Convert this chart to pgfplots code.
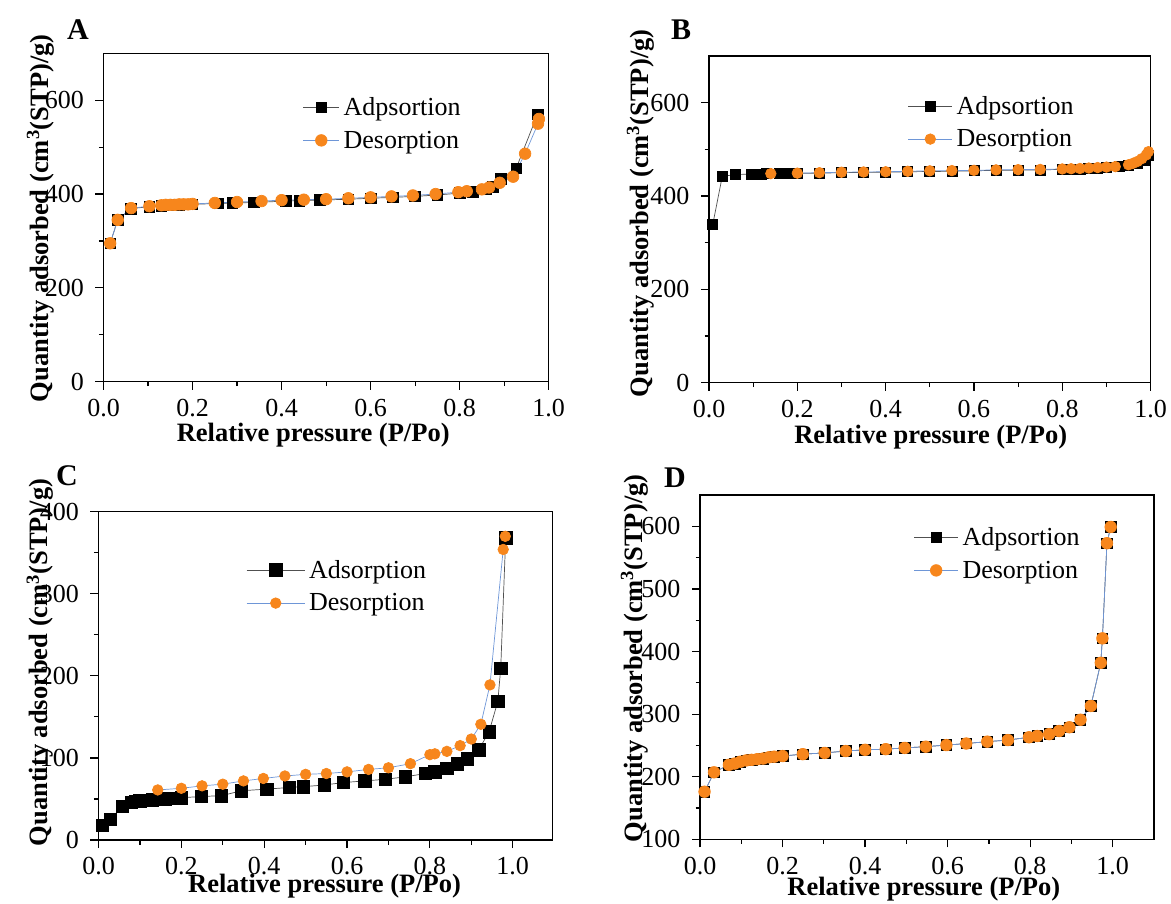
\documentclass[border=0pt]{standalone}
\usepackage{fontspec}
\setmainfont{Liberation Serif}
\usepackage{pgfplots}
\pgfplotsset{compat=1.18}
\definecolor{dorange}{RGB}{247,134,28}
\definecolor{dblue}{RGB}{110,150,215}
\definecolor{agray}{RGB}{80,80,80}
\newcommand\fs{\fontsize{26}{30}\selectfont}
\pgfplotsset{
  panel/.style={
    scale only axis,
    axis line style={line width=1.4pt},
    every tick/.style={line width=1.2pt, black},
    tick align=outside,
    major tick length=8pt,
    minor tick length=4.5pt,
    xtick pos=bottom, ytick pos=left,
    xmin=0, xtick={0,0.2,0.4,0.6,0.8,1.0}, minor x tick num=1,
    /pgf/number format/assume math mode=true,
    tick label style={font=\fs},
    xticklabel style={yshift=-6pt, /pgf/number format/.cd, fixed, fixed zerofill, precision=1, /tikz/.cd},
    yticklabel style={xshift=-8pt, /pgf/number format/.cd, fixed, precision=0, /tikz/.cd},
    xlabel={Relative pressure (P/Po)},
    ylabel={Quantity adsorbed (cm\textsuperscript{3}(STP)/g)},
    xlabel style={font=\fontsize{26.5}{30}\selectfont\bfseries, anchor=base, inner sep=0pt},
    ylabel style={font=\fontsize{26.5}{30}\selectfont\bfseries, anchor=base, inner sep=0pt},
    legend cell align=left,
    legend style={draw=none, fill=none, inner sep=0pt, outer sep=0pt, font=\fs,
      row sep=12pt, nodes={inner sep=1pt}, anchor=north west,
      /tikz/every odd column/.append style={column sep=3pt}},
  },
  ads/.style={agray, line width=0.7pt, mark=square*, mark size=5.3pt, mark options={black, fill=black, solid}},
  des/.style={dblue, line width=0.7pt, mark=*, mark size=5.8pt, mark options={dorange, fill=dorange, solid}},
  limg/.style={legend image code/.code={\draw[mark repeat=2,mark phase=2,##1] plot coordinates {(0pt,0pt) (#1pt,0pt) (2*#1pt,0pt)};}},
}
\begin{document}
\begin{tikzpicture}
\path[use as bounding box] (0pt,0pt) rectangle (1171pt,-904pt);
% ---------------- A
\begin{axis}[panel, at={(103.5pt,-381.7pt)}, anchor=south west, width=445.2pt, height=328.4pt,
  xmax=1.0, ymin=0, ymax=700, ytick={0,200,400,600}, minor y tick num=1,
  xlabel style={at={(axis description cs:0.471,-0.1827)}},
  ylabel style={at={(axis description cs:-0.1245,0.4976)}},
  legend style={at={(0.448,0.8685)}}, limg=18]
\addplot[ads] coordinates {
(0.015,295) (0.032,345) (0.062,369) (0.103,373) (0.13,375) (0.14,376) (0.15,376) (0.16,377)
(0.17,377) (0.18,378) (0.19,378) (0.20,378) (0.258,380) (0.289,381) (0.338,382) (0.41,385)
(0.44,386) (0.486,387) (0.55,389) (0.6,391) (0.65,393) (0.7,395) (0.75,398) (0.8,402)
(0.83,405) (0.86,410) (0.875,415) (0.892,432) (0.927,455) (0.975,570)};
\addplot[des] coordinates {
(0.978,560) (0.976,550) (0.947,486) (0.92,437) (0.89,424) (0.866,414) (0.85,410) (0.816,406)
(0.797,404) (0.746,400) (0.695,397) (0.647,395) (0.6,393) (0.55,391) (0.5,389) (0.45,388)
(0.40,387) (0.355,385) (0.30,383) (0.25,381) (0.20,379) (0.19,378) (0.18,378) (0.17,378)
(0.16,377) (0.15,377) (0.14,377) (0.13,376) (0.103,374) (0.062,370) (0.032,345) (0.015,295)};
\legend{Adpsortion,Desorption}
\end{axis}
% ---------------- B
\begin{axis}[panel, at={(709pt,-382.7pt)}, anchor=south west, width=441.6pt, height=326.7pt,
  xmax=1.0, ymin=0, ymax=700, ytick={0,200,400,600}, minor y tick num=1,
  xlabel style={at={(axis description cs:0.502,-0.1855)}},
  ylabel style={at={(axis description cs:-0.138,0.5185)}},
  legend style={at={(0.4505,0.880)}}, limg=22,
  ads/.append style={mark size=5pt}, des/.append style={mark size=5.3pt}]
\addplot[ads] coordinates {
(0.0085,339) (0.03,442) (0.06,446) (0.097,447) (0.118,447) (0.13,447.5) (0.16,448) (0.173,448)
(0.19,448) (0.2,448.5) (0.25,449) (0.3,450) (0.35,450.5) (0.4,451) (0.45,452) (0.5,452.5)
(0.55,453) (0.6,454) (0.65,455) (0.7,455.5) (0.75,456) (0.8,457) (0.82,458) (0.84,458)
(0.86,459) (0.88,460) (0.9,461) (0.93,463) (0.95,465) (0.97,470) (0.985,477) (0.995,488)};
\addplot[des] coordinates {
(0.995,495) (0.99,488) (0.98,480) (0.97,474) (0.96,470) (0.95,467) (0.92,463) (0.9,462)
(0.88,461) (0.86,460) (0.84,459) (0.82,458.5) (0.8,458) (0.75,457) (0.7,456.5) (0.65,456)
(0.6,455) (0.55,454.5) (0.5,454) (0.45,453) (0.4,452) (0.35,451.5) (0.3,451) (0.25,450)
(0.2,449) (0.14,448)};
\legend{Adpsortion,Desorption}
\end{axis}
% ---------------- C
\begin{axis}[panel, at={(98.5pt,-840pt)}, anchor=south west, width=454pt, height=328.3pt,
  xmax=1.096, ymin=0, ymax=400, ytick={0,100,200,300,400}, minor y tick num=1,
  xlabel style={at={(axis description cs:0.498,-0.1614)}},
  ylabel style={at={(axis description cs:-0.1114,0.5407)}},
  legend style={at={(0.3257,0.8553)}}, limg=29,
  ads/.append style={mark size=6.2pt}, des/.append style={mark size=5.3pt}]
\addplot[ads] coordinates {
(0.009,18) (0.029,25) (0.057,41) (0.08,46) (0.09,47) (0.1,47.5) (0.11,48) (0.12,48.5)
(0.13,49) (0.14,49.5) (0.15,50) (0.16,50) (0.17,50.5) (0.18,51) (0.19,51) (0.2,51.5)
(0.248,53) (0.297,54) (0.345,60) (0.406,62) (0.461,64) (0.495,65) (0.545,67) (0.591,70)
(0.643,72) (0.693,74) (0.741,77) (0.789,81) (0.812,83) (0.841,87) (0.866,93) (0.891,99)
(0.918,110) (0.943,132) (0.964,169) (0.971,209) (0.983,368)};
\addplot[des] coordinates {
(0.982,370) (0.977,354) (0.945,189) (0.923,141) (0.9,123) (0.873,115) (0.841,108) (0.812,105)
(0.8,104) (0.753,93) (0.7,88) (0.652,86) (0.6,83) (0.55,81) (0.5,80) (0.45,78)
(0.398,75) (0.35,72) (0.3,68) (0.25,66) (0.2,63) (0.143,61)};
\legend{Adsorption,Desorption}
\end{axis}
% ---------------- D
\begin{axis}[panel, at={(700pt,-839.3pt)}, anchor=south west, width=454pt, height=344.3pt,
  xmax=1.1, ymin=100, ymax=650, ytick={100,200,300,400,500,600}, minor y tick num=1,
  xlabel style={at={(axis description cs:0.493,-0.162)}},
  ylabel style={at={(axis description cs:-0.1274,0.5257)}},
  legend style={at={(0.471,0.9085)}}, limg=22]
\addplot[ads] coordinates {
(0.011,176) (0.034,207) (0.07,219) (0.084,221) (0.098,224) (0.112,226) (0.125,227) (0.139,228)
(0.153,229) (0.167,231) (0.18,232) (0.2,233) (0.249,236) (0.302,238) (0.353,241) (0.4,243)
(0.45,244) (0.496,246) (0.547,248) (0.597,250.5) (0.645,253) (0.696,256) (0.746,258.5) (0.797,263)
(0.817,265) (0.846,268) (0.87,273) (0.895,279) (0.922,291) (0.947,313) (0.971,382) (0.975,421)
(0.986,573) (0.995,599)};
\addplot[des] coordinates {
(0.995,599) (0.986,573) (0.975,421) (0.971,382) (0.947,313) (0.922,291) (0.895,279) (0.87,273)
(0.846,268) (0.817,265) (0.797,263) (0.746,258.5) (0.696,256) (0.645,253) (0.597,250.5) (0.547,248)
(0.496,246) (0.45,244) (0.4,243) (0.353,241) (0.302,238) (0.249,236) (0.2,233) (0.18,232)
(0.167,231) (0.153,229) (0.139,228) (0.125,227) (0.112,226) (0.098,224) (0.084,221) (0.07,219)
(0.034,207) (0.011,176)};
\legend{Adpsortion,Desorption}
\end{axis}
% panel letters
\node[anchor=base west, inner sep=0pt, font=\fontsize{30}{32}\selectfont\bfseries] at (67pt,-40pt) {A};
\node[anchor=base west, inner sep=0pt, font=\fontsize{30}{32}\selectfont\bfseries] at (671pt,-40pt) {B};
\node[anchor=base west, inner sep=0pt, font=\fontsize{30}{32}\selectfont\bfseries] at (56pt,-485pt) {C};
\node[anchor=base west, inner sep=0pt, font=\fontsize{30}{32}\selectfont\bfseries] at (664pt,-487pt) {D};
\end{tikzpicture}
\end{document}
